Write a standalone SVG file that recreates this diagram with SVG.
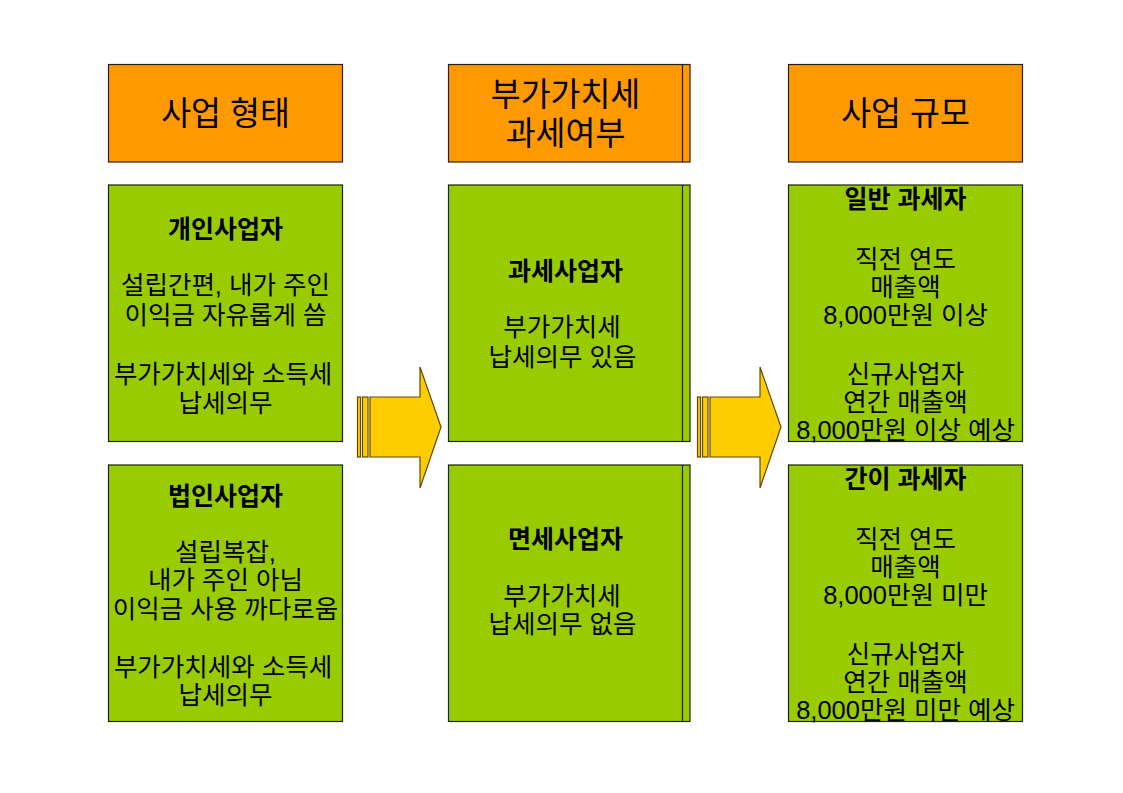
<svg xmlns="http://www.w3.org/2000/svg" width="1123" height="793" viewBox="0 0 1123 793">
<style>
.hdr{fill:#FF9900;stroke:#2b2010;stroke-width:1.2}
.box{fill:#99CC00;stroke:#1c2400;stroke-width:1.2}
.edge{stroke:#1c2400;stroke-width:1.2;fill:none}
.arrow{fill:#FFCC00;stroke:#5e4a00;stroke-width:1.2}
text{font-family:"Liberation Sans","Noto Sans CJK KR",sans-serif;fill:#000;text-anchor:middle}
.h{font-size:32.5px}
.t{font-size:25px;font-weight:bold}
.b{font-size:25.5px}
</style>
<rect width="1123" height="793" fill="#ffffff"/>

<g id="header-type">
<rect class="hdr" x="108.5" y="64.5" width="234" height="97.5"/>
<text class="h" x="225.5" y="124.5">사업 형태</text>
</g>
<g id="header-vat">
<rect class="hdr" x="448.5" y="64.5" width="241.5" height="97.5"/>
<line class="edge" x1="682.5" y1="64.5" x2="682.5" y2="162"/>
<text class="h" x="565.5" y="105.5">부가가치세</text>
<text class="h" x="565.5" y="145">과세여부</text>
</g>
<g id="header-scale">
<rect class="hdr" x="788.5" y="64.5" width="234" height="97.5"/>
<text class="h" x="905.5" y="124.5">사업 규모</text>
</g>

<g id="individual">
<rect class="box" x="108.5" y="185" width="234" height="256.5"/>
<text class="t" x="225.5" y="238">개인사업자</text>
<text class="b" x="225.5" y="294">설립간편, 내가 주인</text>
<text class="b" x="225.5" y="324">이익금 자유롭게 씀</text>
<text class="b" x="223" y="383">부가가치세와 소득세</text>
<text class="b" x="225.5" y="412">납세의무</text>
</g>
<g id="corporate">
<rect class="box" x="108.5" y="465" width="234" height="256.5"/>
<text class="t" x="225.5" y="505">법인사업자</text>
<text class="b" x="225.5" y="561">설립복잡,</text>
<text class="b" x="225.5" y="589">내가 주인 아님</text>
<text class="b" x="225.5" y="618">이익금 사용 까다로움</text>
<text class="b" x="223" y="676">부가가치세와 소득세</text>
<text class="b" x="225.5" y="704">납세의무</text>
</g>

<g id="taxable">
<rect class="box" x="448.5" y="185" width="241.5" height="256.5"/>
<line class="edge" x1="682.5" y1="185" x2="682.5" y2="441.5"/>
<text class="t" x="565.5" y="280">과세사업자</text>
<text class="b" x="562" y="336">부가가치세</text>
<text class="b" x="562.5" y="366">납세의무 있음</text>
</g>
<g id="exempt">
<rect class="box" x="448.5" y="465" width="241.5" height="256.5"/>
<line class="edge" x1="682.5" y1="465" x2="682.5" y2="721.5"/>
<text class="t" x="565.5" y="548">면세사업자</text>
<text class="b" x="562" y="605">부가가치세</text>
<text class="b" x="562.5" y="633">납세의무 없음</text>
</g>

<g id="general">
<rect class="box" x="788.5" y="185" width="234" height="256.5"/>
<text class="t" x="905.5" y="208">일반 과세자</text>
<text class="b" x="905.5" y="268">직전 연도</text>
<text class="b" x="905.5" y="296">매출액</text>
<text class="b" x="905.5" y="324">8,000만원 이상</text>
<text class="b" x="905.5" y="383">신규사업자</text>
<text class="b" x="905.5" y="411">연간 매출액</text>
<text class="b" x="905.5" y="439">8,000만원 이상 예상</text>
</g>
<g id="simplified">
<rect class="box" x="788.5" y="465" width="234" height="256.5"/>
<text class="t" x="905.5" y="488">간이 과세자</text>
<text class="b" x="905.5" y="548">직전 연도</text>
<text class="b" x="905.5" y="576">매출액</text>
<text class="b" x="905.5" y="604">8,000만원 미만</text>
<text class="b" x="905.5" y="663">신규사업자</text>
<text class="b" x="905.5" y="691">연간 매출액</text>
<text class="b" x="905.5" y="719">8,000만원 미만 예상</text>
</g>

<g id="connectors">
<g id="arrow1">
<rect class="arrow" x="357.5" y="397" width="3" height="60"/>
<rect class="arrow" x="362.5" y="397" width="5.5" height="60"/>
<polygon class="arrow" points="370,397 420,397 420,367 441,427 420,488 420,457 370,457"/>
</g>
<g id="arrow2">
<rect class="arrow" x="697.5" y="397" width="3" height="60"/>
<rect class="arrow" x="702.5" y="397" width="5.5" height="60"/>
<polygon class="arrow" points="710,397 760,397 760,367 781,427 760,488 760,457 710,457"/>
</g>
</g>
</svg>
